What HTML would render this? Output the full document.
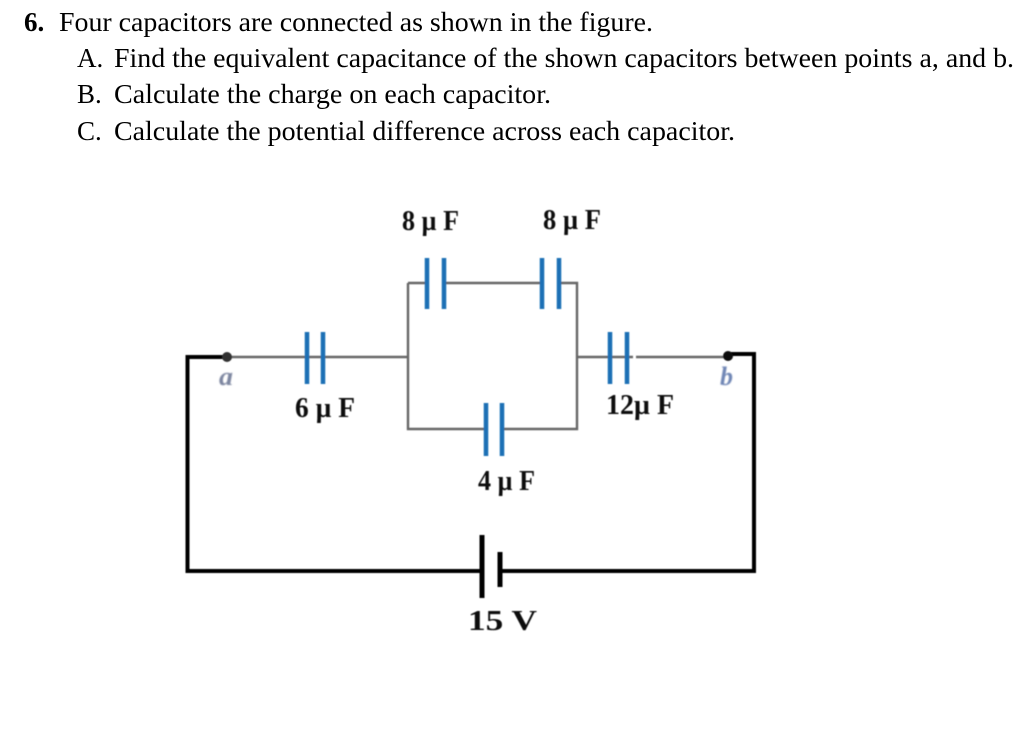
<!DOCTYPE html>
<html><head><meta charset="utf-8"><style>
html,body{margin:0;padding:0;background:#fff;width:1024px;height:738px;overflow:hidden}
svg{display:block}
.t{font-family:"Liberation Serif",serif;font-size:27px;fill:#000}
.l{font-family:"Liberation Serif",serif;font-size:29px;font-weight:bold;fill:#111}
</style></head><body>
<svg width="1024" height="738" viewBox="0 0 1024 738" xmlns="http://www.w3.org/2000/svg">
<defs>
<filter id="b" x="-10%" y="-10%" width="120%" height="120%"><feGaussianBlur stdDeviation="0.5"/></filter>
<filter id="c" x="-30%" y="-30%" width="160%" height="160%"><feGaussianBlur stdDeviation="0.8"/></filter>
</defs>
<text class="t" x="24" y="31" font-weight="bold">6.</text>
<text class="t" x="59" y="31" textLength="594" lengthAdjust="spacingAndGlyphs">Four capacitors are connected as shown in the figure.</text>
<text class="t" x="77" y="67">A.</text>
<text class="t" x="114" y="67" textLength="900" lengthAdjust="spacingAndGlyphs">Find the equivalent capacitance of the shown capacitors between points a, and b.</text>
<text class="t" x="77" y="103">B.</text>
<text class="t" x="114" y="103" textLength="437" lengthAdjust="spacingAndGlyphs">Calculate the charge on each capacitor.</text>
<text class="t" x="77" y="140">C.</text>
<text class="t" x="114" y="140" textLength="621" lengthAdjust="spacingAndGlyphs">Calculate the potential difference across each capacitor.</text>
<g filter="url(#b)">
<g fill="none" stroke="#666" stroke-width="2.4">
<path d="M227 357H408M408 283V429H486M502 429H577V283H559M542 283H444M427 283H408M577 357H633M636 357H728"/>
</g>
<g fill="none" stroke="#000" stroke-width="4">
<path d="M227 357H187.500V571H482M500 571H754V354H728"/>
<path d="M482 535V598M500 552V587" stroke-width="5"/>
</g>
<circle cx="227" cy="357" r="5" fill="#333"/>
<circle cx="728" cy="356" r="5" fill="#111"/>
<g stroke="#1b6fb5" stroke-width="4.500" fill="none">
<path d="M307 332V384M323 332V384"/>
<path d="M427 258V309M444 258V309"/>
<path d="M542 258V309M559 258V309"/>
<path d="M610 332V384M627 332V384"/>
<path d="M486 403V456M502 403V456"/>
</g>
<text class="l" x="402" y="230" textLength="57" lengthAdjust="spacingAndGlyphs">8 µ F</text>
<text class="l" x="543" y="229" textLength="58" lengthAdjust="spacingAndGlyphs">8 µ F</text>
<text class="l" x="295" y="417" textLength="60" lengthAdjust="spacingAndGlyphs">6 µ F</text>
<text class="l" x="606" y="414" textLength="68" lengthAdjust="spacingAndGlyphs">12µ F</text>
<text class="l" x="478" y="490" textLength="57" lengthAdjust="spacingAndGlyphs">4 µ F</text>
<text class="l" x="468" y="630" textLength="69" lengthAdjust="spacingAndGlyphs">15 V</text>
</g>
<g filter="url(#c)" font-family="Liberation Serif,serif" font-style="italic" font-weight="bold" font-size="26">
<text x="219" y="385" fill="#7d86a0" textLength="14" lengthAdjust="spacingAndGlyphs">a</text>
<text x="720" y="385" fill="#6f86b5" textLength="13" lengthAdjust="spacingAndGlyphs">b</text>
</g>
</svg>
</body></html>
